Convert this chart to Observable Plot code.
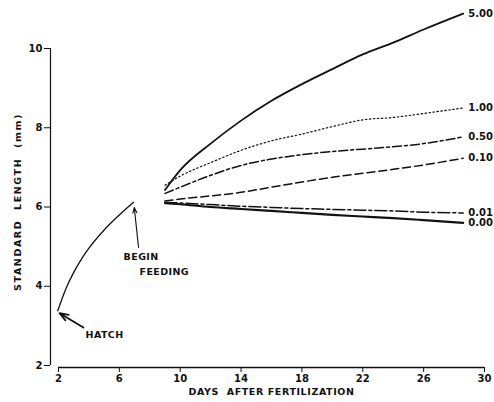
<!DOCTYPE html>
<html><head><meta charset="utf-8">
<script src="https://cdn.jsdelivr.net/npm/d3@7"></script>
<script src="https://cdn.jsdelivr.net/npm/@observablehq/plot@0.6"></script>
<style>
body{margin:0;background:#fff}
.ylab text{letter-spacing:1.6px}
.xlab text{letter-spacing:0.6px}
.ann text{letter-spacing:0.4px}
</style>
</head><body><div id="chart"></div>
<script>
// Pre-feeding growth (hatch to begin feeding)
const preDays = [1.95, 2.5, 3.0, 3.5, 4.0, 5.0, 6.0, 6.93];
const preLength = [3.38, 3.95, 4.35, 4.68, 4.96, 5.42, 5.80, 6.12];

// Post-feeding growth by food concentration
const concentrations = ["5.00", "1.00", "0.50", "0.10", "0.01", "0.00"];
const postDays = [9, 10, 12, 14, 16, 18, 20, 22, 24, 26, 28.6];
const len500 = [6.43, 6.93, 7.60, 8.18, 8.68, 9.10, 9.48, 9.85, 10.15, 10.48, 10.88];
const len100 = [6.55, 6.78, 7.12, 7.43, 7.67, 7.84, 8.03, 8.20, 8.26, 8.36, 8.50];
const len050 = [6.34, 6.50, 6.80, 7.05, 7.21, 7.32, 7.40, 7.46, 7.52, 7.60, 7.77];
const len010 = [6.15, 6.20, 6.28, 6.37, 6.50, 6.63, 6.75, 6.85, 6.95, 7.06, 7.23];
const len001 = [6.12, 6.10, 6.06, 6.02, 5.99, 5.96, 5.94, 5.92, 5.90, 5.87, 5.85];
const len000 = [6.10, 6.07, 6.00, 5.95, 5.90, 5.85, 5.80, 5.76, 5.72, 5.67, 5.60];
const postLengths = [len500, len100, len050, len010, len001, len000];

const xTicks = [2, 6, 10, 14, 18, 22, 26, 30];
const yTicks = [2, 4, 6, 8, 10];
const xLabel = "DAYS  AFTER FERTILIZATION";
const yLabel = "STANDARD  LENGTH  (mm)";

// Annotations (data units)
const hatchLabel = {text: "HATCH", day: 5.03, len: 2.78};
const hatchArrowTail = {day: 3.64, len: 2.96};
const beginLabel = {text: "BEGIN", day: 6.28, len: 4.73};
const feedingLabel = {text: "FEEDING", day: 7.33, len: 4.35};
const feedArrowTail = {day: 7.26, len: 4.98};

const pre = preDays.map((d, i) => ({day: d, len: preLength[i]}));
const post = concentrations.map((c, k) => postDays.map((d, i) => ({conc: c, day: d, len: postLengths[k][i]})));
const ends = post.map(s => s[s.length - 1]);

const styles = {
  "5.00": {strokeWidth: 1.8},
  "1.00": {strokeWidth: 1.2, strokeDasharray: "1.5,2.5"},
  "0.50": {strokeWidth: 1.5, strokeDasharray: "9,3,3,3"},
  "0.10": {strokeWidth: 1.5, strokeDasharray: "8,4"},
  "0.01": {strokeWidth: 1.5, strokeDasharray: "12,3,3,3"},
  "0.00": {strokeWidth: 2.2}
};

const chart = Plot.plot({
  width: 494,
  height: 402,
  marginLeft: 58,
  marginRight: 10,
  marginTop: 48,
  marginBottom: 37,
  style: {fontFamily: "DejaVu Sans", fontSize: "10px", fontWeight: "bold", background: "#fff", color: "#111"},
  x: {domain: [2, 30]},
  y: {domain: [2, 10]},
  marks: [
    Plot.axisX({ticks: xTicks, tickSize: 5, dy: 2, label: null, tickPadding: 2, fontSize: 10}),
    Plot.axisY({ticks: yTicks, tickSize: 6, dx: -8, label: null, tickPadding: 2, fontSize: 10}),
    Plot.ruleY([2], {x1: 2, x2: 30, dy: 2, strokeWidth: 1.5, stroke: "#111"}),
    Plot.ruleX([2], {dx: -8, strokeWidth: 1.2, stroke: "#111"}),
    Plot.text([yLabel], {frameAnchor: "left", textAnchor: "middle", dx: -41, dy: -5, rotate: -90, fontSize: 9.5, fill: "#111", className: "ylab"}),
    Plot.text([xLabel], {frameAnchor: "bottom", textAnchor: "middle", dy: 29, fontSize: 9.5, fill: "#111", className: "xlab"}),
    Plot.line(pre, {x: "day", y: "len", curve: "monotone-x", stroke: "#111", strokeWidth: 1.3}),
    ...post.map((s, k) => Plot.line(s, {x: "day", y: "len", curve: "monotone-x", stroke: "#111", ...styles[concentrations[k]]})),
    Plot.text(ends, {x: "day", y: "len", text: "conc", textAnchor: "start", dx: 5, fontSize: 10, fill: "#111"}),
    Plot.arrow([0], {x1: () => hatchArrowTail.day, y1: () => hatchArrowTail.len, x2: () => pre[0].day + 0.12, y2: () => pre[0].len - 0.06, stroke: "#111", strokeWidth: 1.8, headLength: 9, headAngle: 40}),
    Plot.arrow([0], {x1: () => feedArrowTail.day, y1: () => feedArrowTail.len, x2: () => pre[pre.length - 1].day + 0.05, y2: () => pre[pre.length - 1].len - 0.13, stroke: "#111", strokeWidth: 1.1, headLength: 8, headAngle: 40}),
    Plot.text([hatchLabel], {x: "day", y: "len", text: "text", fontSize: 9.5, fill: "#111", className: "ann"}),
    Plot.text([beginLabel, feedingLabel], {x: "day", y: "len", text: "text", textAnchor: "start", fontSize: 9.5, fill: "#111", className: "ann"})
  ]
});
document.getElementById("chart").appendChild(chart);
</script>
</body></html>
